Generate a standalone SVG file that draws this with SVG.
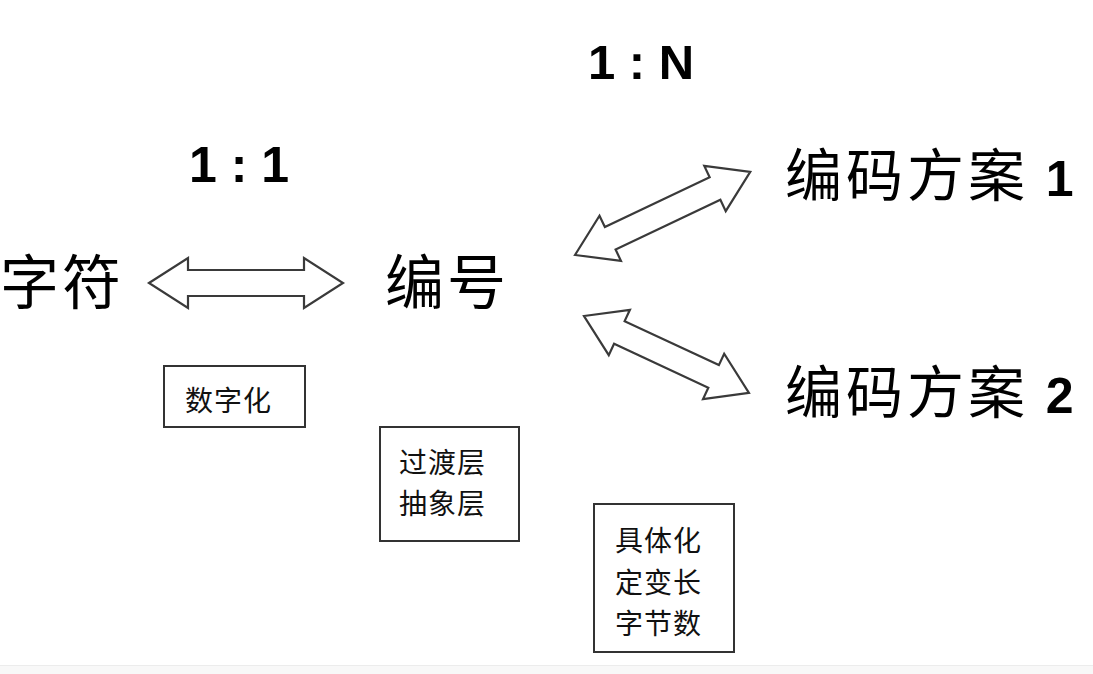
<svg xmlns="http://www.w3.org/2000/svg" width="1093" height="674" viewBox="0 0 1093 674">
<style>
.big{font-family:"Noto Sans CJK SC","Noto Sans",sans-serif;font-size:57px;fill:#000}
.big2{font-family:"Noto Sans CJK SC","Noto Sans",sans-serif;font-size:59px;fill:#000}
.num{font-family:"Liberation Sans",Arial,sans-serif;font-weight:bold;fill:#000}
.small{font-family:"Noto Sans CJK SC","Noto Sans",sans-serif;font-size:28px;fill:#111;letter-spacing:1px}
.box{fill:#fff;stroke:#333;stroke-width:2}
.arrow{fill:#fff;stroke:#3a3a3a;stroke-width:2.2;stroke-linejoin:miter}
</style>
<rect width="1093" height="674" fill="#fff"/>
<rect x="0" y="665" width="1093" height="9" fill="#f8f8f8"/>
<line x1="0" y1="665.5" x2="1093" y2="665.5" stroke="#ececec" stroke-width="1"/>

<g id="label-1to1"><text class="num" x="189" y="182" font-size="50">1 : 1</text></g>
<g id="label-1toN"><text class="num" x="588" y="79" font-size="49">1 : N</text></g>

<g id="node-zifu"><text class="big2" x="0" y="304" letter-spacing="3">字符</text></g>
<g id="node-bianhao"><text class="big2" x="385" y="304" letter-spacing="3">编号</text></g>
<g id="node-scheme1"><text class="big" x="785" y="196" letter-spacing="4">编码方案 <tspan class="num" font-size="50" letter-spacing="0">1</tspan></text></g>
<g id="node-scheme2"><text class="big" x="785" y="413" letter-spacing="4">编码方案 <tspan class="num" font-size="50" letter-spacing="0">2</tspan></text></g>

<g id="connectors">
<path class="arrow" transform="translate(149,283)" d="M0,0 L39,-25 L39,-13 L155,-13 L155,-25 L194,0 L155,25 L155,13 L39,13 L39,25 Z"/>
<path class="arrow" transform="translate(575,255) rotate(-25.4)" d="M0,0 L39,-25 L39,-12.5 L155,-12.5 L155,-25 L194,0 L155,25 L155,12.5 L39,12.5 L39,25 Z"/>
<path class="arrow" transform="translate(584,316) rotate(25)" d="M0,0 L39,-25 L39,-12.5 L143,-12.5 L143,-25 L182,0 L143,25 L143,12.5 L39,12.5 L39,25 Z"/>
</g>

<g id="box-shuzihua">
<rect class="box" x="164" y="366" width="141" height="61"/>
<text class="small" x="185" y="411">数字化</text>
</g>
<g id="box-guodu">
<rect class="box" x="380" y="427" width="139" height="114"/>
<text class="small" x="399" y="473">过渡层</text>
<text class="small" x="399" y="514">抽象层</text>
</g>
<g id="box-juti">
<rect class="box" x="594" y="504" width="140" height="148"/>
<text class="small" x="615" y="551">具体化</text>
<text class="small" x="615" y="593">定变长</text>
<text class="small" x="615" y="634">字节数</text>
</g>
</svg>
